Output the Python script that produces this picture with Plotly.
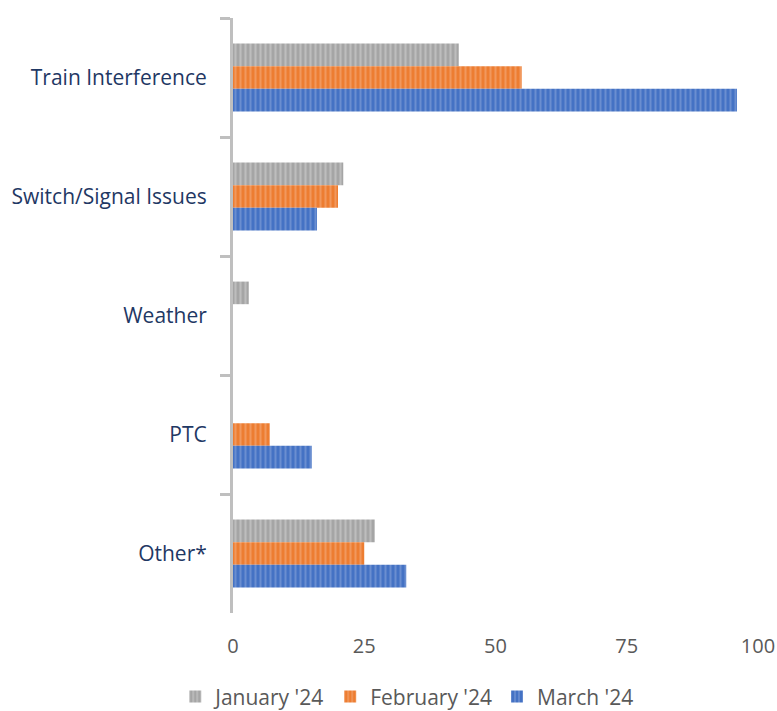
import plotly.graph_objects as go

categories = ["Train Interference", "Switch/Signal Issues", "Weather", "PTC", "Other*"]
series_names = ["January '24", "February '24", "March '24"]
jan_values = [43, 21, 3, 0, 27]
feb_values = [55, 20, 0, 7, 25]
mar_values = [96, 16, 0, 15, 33]
x_ticks = [0, 25, 50, 75, 100]

colors = ["#A5A5A5", "#ED7D31", "#4472C4"]
stripe = ["#D6D6D6", "#F5B38A", "#8FAADC"]

fig = go.Figure()
for name, vals, c, s in zip(series_names, [jan_values, feb_values, mar_values], colors, stripe):
    fig.add_trace(go.Bar(
        y=categories, x=vals, name=name, orientation="h",
        marker=dict(color=c, line=dict(width=0),
                    pattern=dict(shape="|", fgcolor=s, bgcolor=c, size=5, solidity=0.4, fillmode="overlay")),
    ))

fig.update_layout(
    width=777, height=711,
    barmode="group", bargap=0.43, bargroupgap=0,
    plot_bgcolor="white", paper_bgcolor="white",
    margin=dict(l=233, r=19, t=18, b=98, autoexpand=False),
    font=dict(family="Open Sans", size=20, color="#595959"),
    xaxis=dict(range=[0, 100], tickvals=x_ticks, showgrid=False, zeroline=False, showline=False,
               ticks="outside", ticklen=15, tickcolor="rgba(0,0,0,0)",
               tickfont=dict(size=20, color="#595959")),
    yaxis=dict(autorange="reversed", showgrid=False, zeroline=False, showline=True,
               linecolor="#BFBFBF", linewidth=3, ticks="outside", ticklen=10, tickwidth=3,
               tickcolor="#BFBFBF", tickson="boundaries", ticklabelstandoff=19,
               tickfont=dict(size=21, color="#1F3864")),
    legend=dict(orientation="h", x=0.331, xanchor="center", y=-0.141, yanchor="middle",
                font=dict(size=21, color="#595959"), itemwidth=30, traceorder="normal"),
    showlegend=True,
)

fig.write_html("out.html", config={"displayModeBar": False},
               post_script="document.body.style.margin='0';document.body.style.overflow='hidden';")
